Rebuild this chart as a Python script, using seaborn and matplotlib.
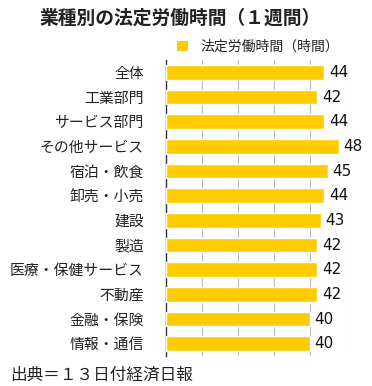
import matplotlib
matplotlib.use("Agg")
import matplotlib.pyplot as plt
import seaborn as sns
import pandas as pd
from matplotlib.patches import Patch

# Data
industries = ["全体", "工業部門", "サービス部門", "その他サービス", "宿泊・飲食", "卸売・小売",
              "建設", "製造", "医療・保健サービス", "不動産", "金融・保険", "情報・通信"]
hours = [44, 42, 44, 48, 45, 44, 43, 42, 42, 42, 40, 40]
legend_label = "法定労働時間（時間）"

df = pd.DataFrame({"industry": industries, "hours": hours})

sns.set_theme(style="white")
plt.rcParams["font.family"] = ["Noto Sans CJK JP", "DejaVu Sans"]

fig = plt.figure(figsize=(3.72, 3.86), dpi=100)
ax = fig.add_axes([166 / 372, 1 - 356 / 386, 180 / 372, 296 / 386])

bar_color = "#FFCC00"
sns.barplot(data=df, x="hours", y="industry", color=bar_color, width=0.6,
            saturation=1, ax=ax, zorder=3)

ax.set_xlim(0, 50)
ax.set_xticks([10, 20, 30, 40, 50])
ax.set_xticklabels([])
ax.tick_params(axis="x", length=0)
ax.tick_params(axis="y", length=0, labelsize=10.7, pad=16, colors="#222222")
ax.grid(axis="x", color="#bbbbbb", linewidth=0.8, zorder=0)
ax.set_xlabel("")
ax.set_ylabel("")
for s in ["top", "right", "bottom"]:
    ax.spines[s].set_visible(False)
ax.spines["left"].set_color("#333333")
ax.spines["left"].set_linewidth(1.0)

for i, v in enumerate(hours):
    ax.text(v + 1.3, i, str(v), va="center", ha="left", fontsize=11, color="#111111",
            family=["DejaVu Sans"], zorder=4)

fig.text(0.485, 0.952, "業種別の法定労働時間（１週間）", ha="center", va="center",
         fontsize=13.5, fontweight="bold", color="#222222")

handle = Patch(facecolor=bar_color, edgecolor="none")
fig.legend([handle], [legend_label], loc="center left", bbox_to_anchor=(170 / 372, 1 - 47 / 386),
           frameon=False, fontsize=10, handlelength=0.8, handleheight=0.8,
           handletextpad=0.9, borderpad=0)

fig.text(10 / 372, 1 - 375 / 386, "出典＝１３日付経済日報", ha="left", va="center",
         fontsize=12, color="#222222")

fig.savefig("out.png", dpi=100)
